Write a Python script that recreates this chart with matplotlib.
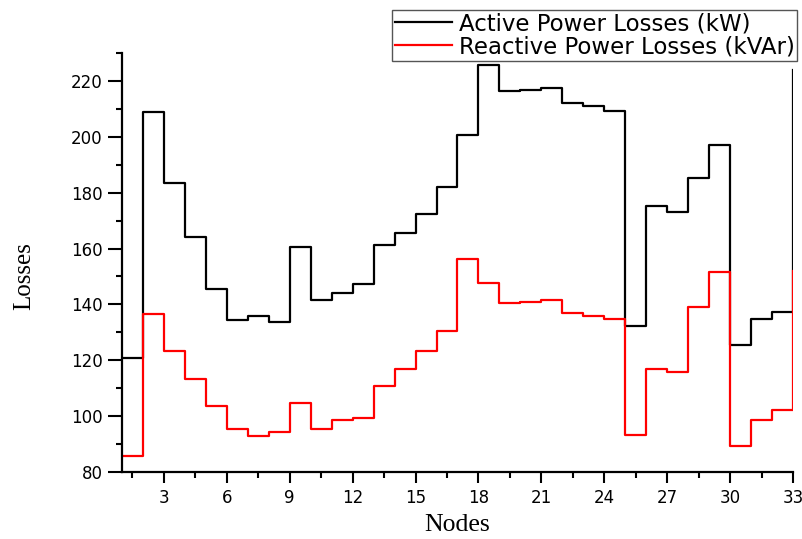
import matplotlib
matplotlib.use("Agg")
import matplotlib.pyplot as plt
from matplotlib.ticker import MultipleLocator

nodes = list(range(1, 34))
active_kw = [120.7, 209.0, 183.4, 164.3, 145.5, 134.3, 136.0, 133.6, 160.4, 141.6,
             144.2, 147.2, 161.4, 165.5, 172.4, 182.0, 200.8, 225.8, 216.3, 216.8,
             217.5, 212.2, 211.0, 209.4, 132.3, 175.1, 173.2, 185.4, 197.0, 125.5,
             134.9, 137.4, 224.0]
reactive_kvar = [85.6, 136.7, 123.4, 113.4, 103.5, 95.5, 92.8, 94.3, 104.8, 95.4,
                 98.5, 99.4, 110.7, 117.0, 123.4, 130.4, 156.3, 147.8, 140.5, 141.0,
                 141.7, 136.8, 136.0, 134.8, 93.1, 116.9, 115.8, 139.0, 151.7, 89.3,
                 98.5, 102.1, 152.0]
x_ticks = [3, 6, 9, 12, 15, 18, 21, 24, 27, 30, 33]
y_ticks = [80, 100, 120, 140, 160, 180, 200, 220]

sans = ["DejaVu Sans"]
serif = ["Liberation Serif", "DejaVu Serif"]

fig = plt.figure(figsize=(8.03, 5.39), dpi=100)
W, H = 803, 539
ax = fig.add_axes([122 / W, 1 - 472 / H, (793 - 122) / W, (472 - 53) / H])

ax.step(nodes, active_kw, where="post", color="black", lw=1.6,
        label="Active Power Losses (kW)")
ax.step(nodes, reactive_kvar, where="post", color="#ff0000", lw=1.6,
        label="Reactive Power Losses (kVAr)")

ax.set_xlim(1, 33)
ax.set_ylim(80, 230)
ax.set_xticks(x_ticks)
ax.set_yticks(y_ticks)
ax.xaxis.set_minor_locator(MultipleLocator(1.5))
ax.yaxis.set_minor_locator(MultipleLocator(10))

for side in ("top", "right"):
    ax.spines[side].set_visible(False)
for side in ("left", "bottom"):
    ax.spines[side].set_linewidth(1.6)

ax.tick_params(which="major", direction="out", length=8, width=1.5,
               labelsize=12, pad=4)
ax.tick_params(axis="y", which="major", length=10, pad=4)
ax.tick_params(which="minor", direction="out", length=4.5, width=1.5)
for lbl in ax.get_xticklabels() + ax.get_yticklabels():
    lbl.set_family(sans)

ax.set_xlabel("Nodes", family=serif, fontsize=18.5)
ax.set_ylabel("Losses", family=serif, fontsize=18)
ax.xaxis.set_label_coords(0.5, -(514 - 472) / (472 - 53))
ax.yaxis.set_label_coords(-(122 - 35) / (793 - 122), (472 - 276) / (472 - 53))

leg = fig.legend(loc="upper right", bbox_to_anchor=(797 / W, 1 - 10 / H),
                 prop={"family": sans, "size": 16.5}, frameon=True,
                 fancybox=False, edgecolor="#555555", framealpha=1,
                 handlelength=2.5, handletextpad=0.3, borderpad=0.1,
                 labelspacing=0.0, borderaxespad=0)
leg.get_frame().set_linewidth(1.0)

fig.savefig("out.png", dpi=100)
